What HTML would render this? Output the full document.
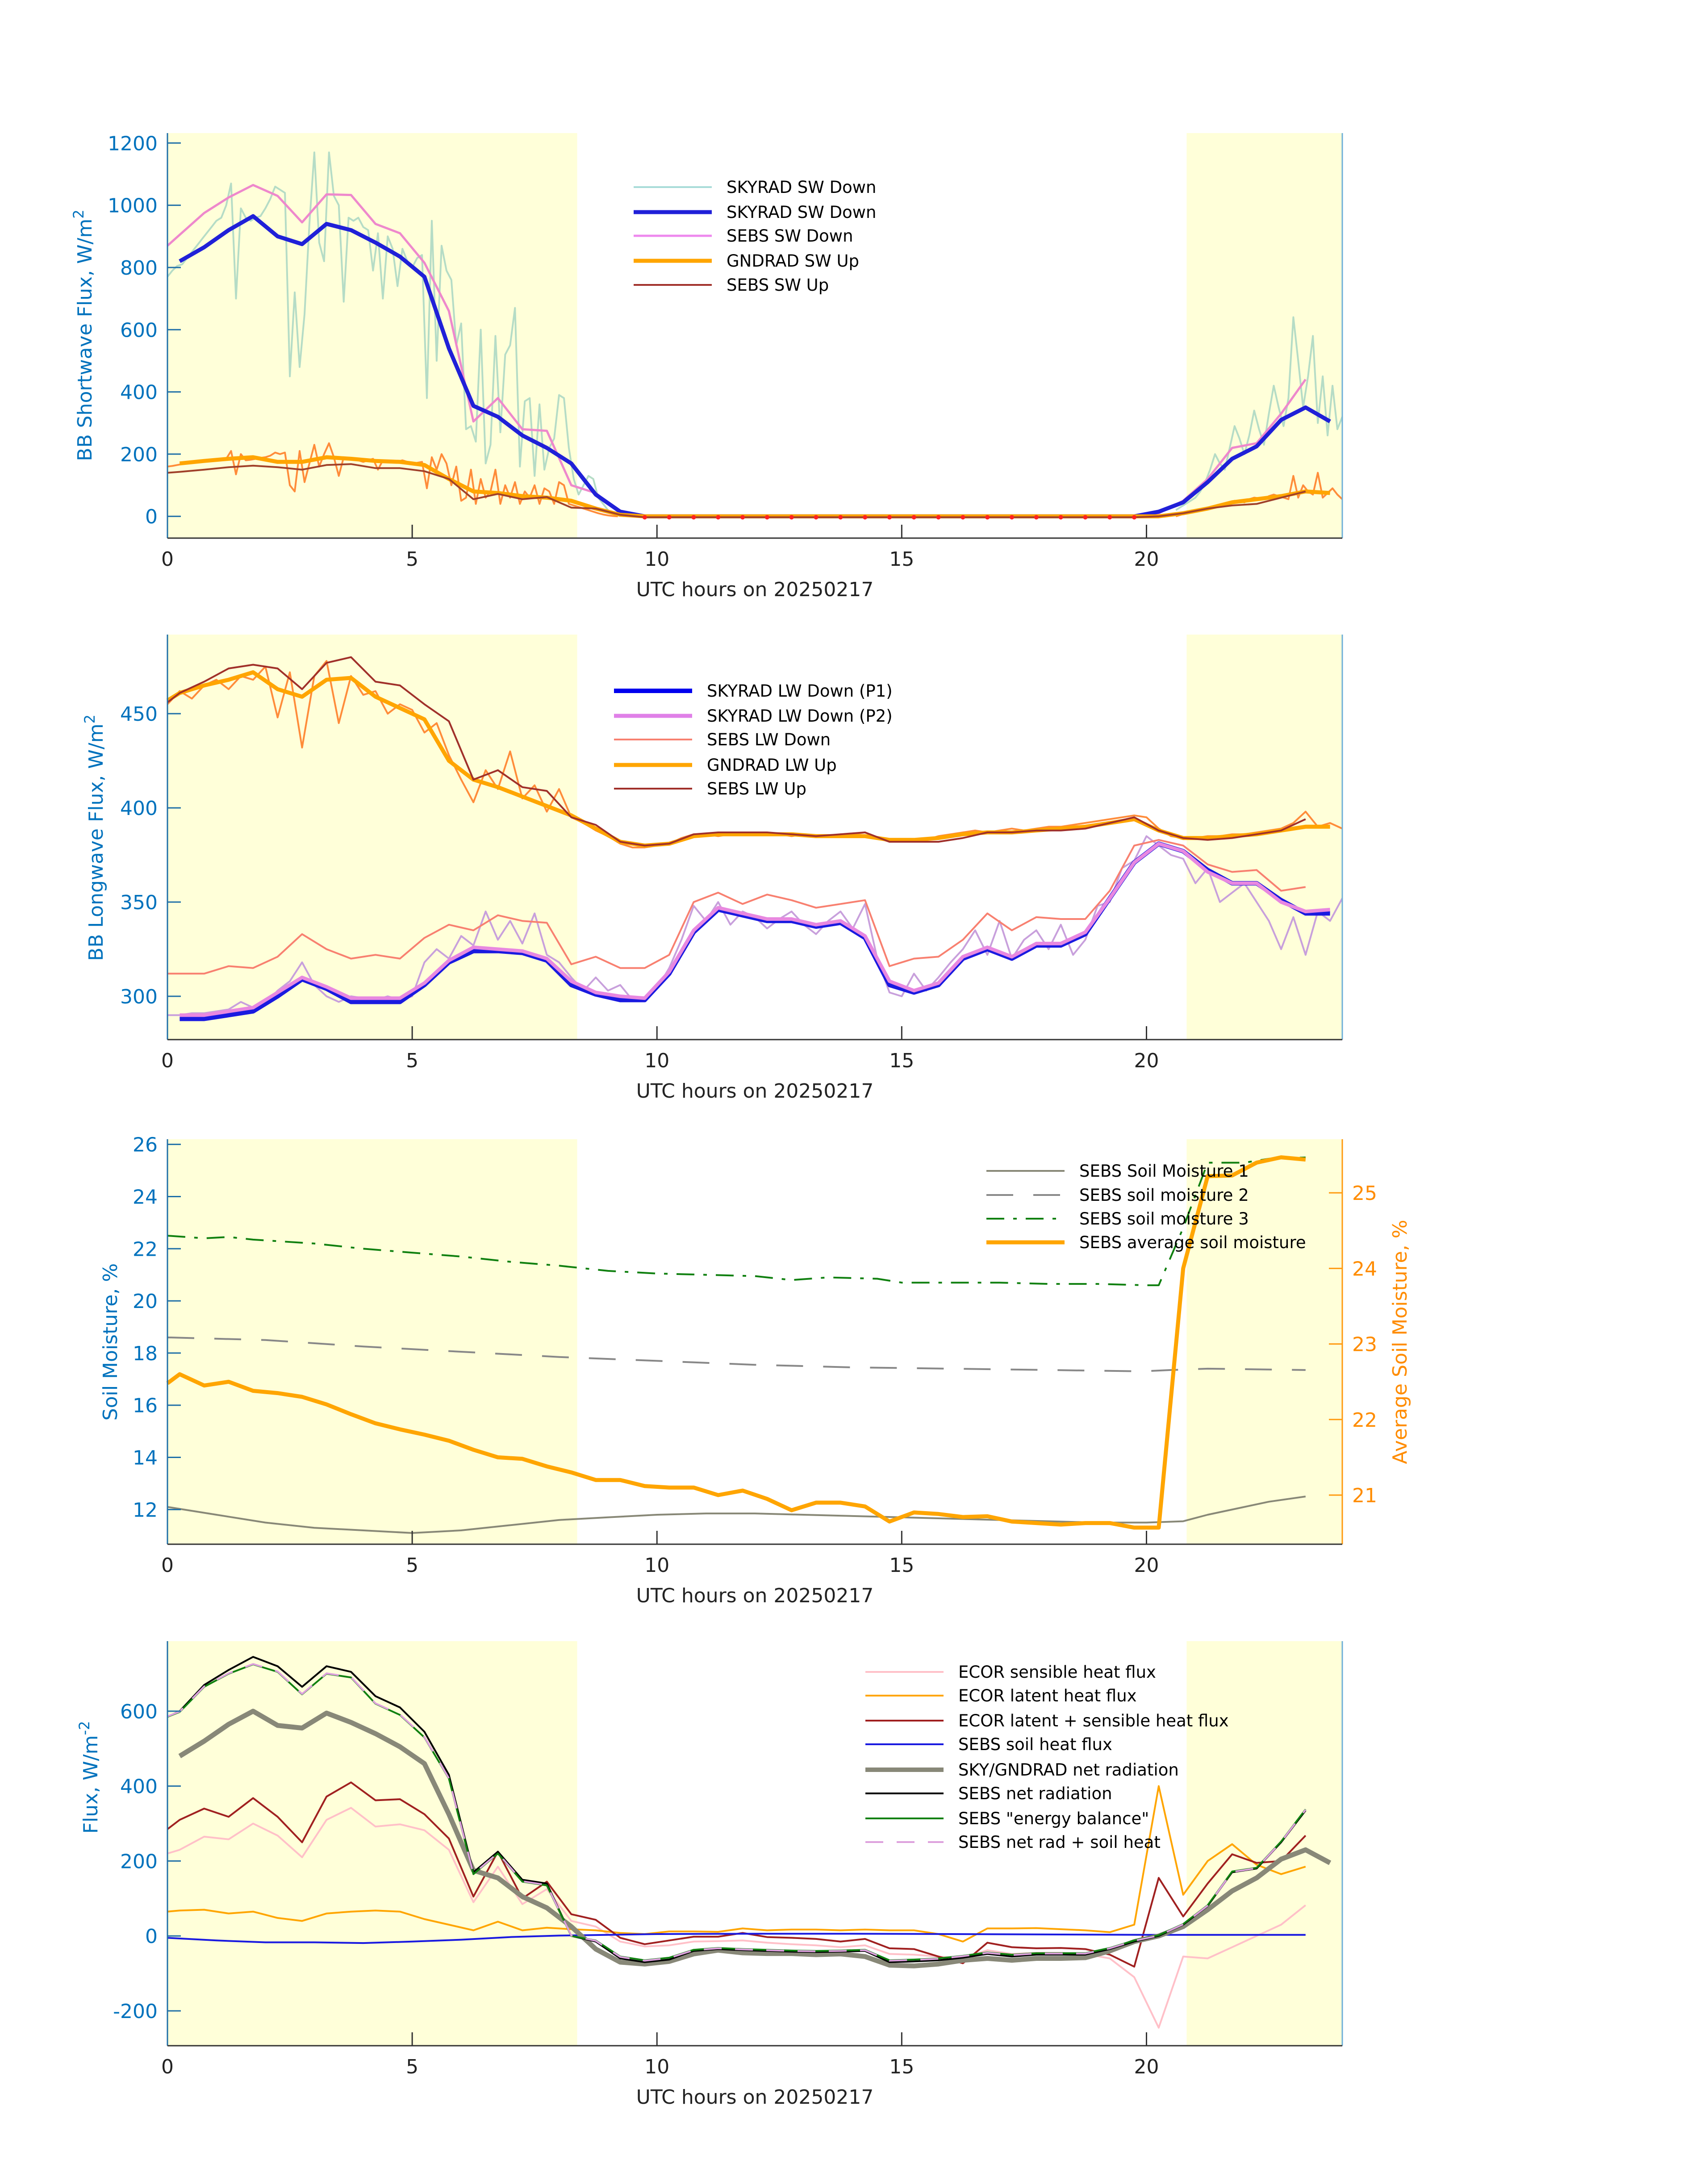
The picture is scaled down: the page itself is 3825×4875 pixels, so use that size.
<!DOCTYPE html>
<html><head><meta charset="utf-8">
<style>
html,body{margin:0;padding:0;background:#fff;}
svg{display:block;font-family:"DejaVu Sans","Liberation Sans",sans-serif;}
</style></head>
<body>
<svg id="fig" xmlns="http://www.w3.org/2000/svg" width="3825" height="4875" viewBox="0 0 3825 4875">
<rect width="3825" height="4875" fill="#fff"/>
<g id="layer"></g>
</svg>
<script>
// ---------- DATA ----------
const H0 = [0,0.25,0.75,1.25,1.75,2.25,2.75,3.25,3.75,4.25,4.75,5.25,5.75,6.25,6.75,7.25,7.75,8.25,8.75,9.25,9.75,10.25,10.75,11.25,11.75,12.25,12.75,13.25,13.75,14.25,14.75,15.25,15.75,16.25,16.75,17.25,17.75,18.25,18.75,19.25,19.75,20.25,20.75,21.25,21.75,22.25,22.75,23.25,23.75];
const xTicks = [0,5,10,15,20];
// Panel 1 shortwave
const swDownSky = [null,820,865,920,965,900,875,940,920,880,835,770,540,355,320,260,220,170,70,15,0,0,0,0,0,0,0,0,0,0,0,0,0,0,0,0,0,0,0,0,0,15,45,110,185,225,310,350,305];
const swDownSebs = [870,905,975,1025,1065,1030,945,1035,1033,940,910,815,660,305,380,280,275,100,75,10,0,0,0,0,0,0,0,0,0,0,0,0,0,0,0,0,0,0,0,0,0,10,50,120,220,235,330,440,null];
const swUpGnd = [null,170,178,185,190,175,175,190,185,178,175,165,120,80,75,65,60,50,25,5,0,0,0,0,0,0,0,0,0,0,0,0,0,0,0,0,0,0,0,0,0,0,10,25,45,55,65,80,75];
const swUpSebs = [140,143,150,158,163,158,150,165,168,155,155,145,120,55,72,55,62,28,25,5,-3,-3,-3,-3,-3,-3,-3,-3,-3,-3,-3,-3,-3,-3,-3,-3,-3,-3,-3,-3,-3,0,10,25,35,40,60,80,null];
const swNoisyAMStart = 0, swNoisyPMStart = 20.6, noisyStep = 0.1;
const swNoisyAM = [770,790,805,810,830,850,870,890,910,930,950,960,1000,1070,700,990,960,950,960,965,990,1020,1060,1050,1040,450,720,480,650,940,1170,880,820,1170,1030,1000,690,960,950,960,930,920,790,910,700,900,860,740,860,820,800,830,840,380,950,500,870,790,760,550,620,280,290,240,600,170,230,580,270,520,550,670,160,370,380,130,360,150,220,250,390,380,220,120,70,100,130,120,60,40,20,8,2];
const swNoisyPM = [20,30,40,50,60,80,110,150,200,170,150,220,290,250,200,260,340,280,230,330,420,350,290,380,640,500,350,450,580,300,450,260,420,280,320];
const swUpNoisyAM = [160,162,165,168,170,172,175,177,180,181,182,184,185,210,135,200,180,182,185,188,190,195,205,200,205,100,80,210,110,170,230,160,200,235,190,130,190,188,185,180,175,180,185,150,180,178,175,176,180,175,170,172,175,90,190,150,200,170,100,160,50,60,150,40,120,60,80,150,40,100,60,110,40,80,60,100,40,90,80,40,110,100,40,35,30,25,20,15,10,6,3,1,0];
const swUpNoisyPM = [0,5,10,12,15,20,25,28,30,35,40,45,50,48,45,55,60,58,55,65,70,65,60,55,130,60,100,80,70,140,60,75,90,70,55];
const swTicks = [0,200,400,600,800,1000,1200];
// Panel 2 longwave
const lwUpGnd = [457,461,465,468,472,463,459,468,469,459,453,447,425,415,411,406,401,396,389,382,380,381,385,386,386,386,386,385,385,385,383,383,384,386,387,387,388,389,390,392,394,388,384,384,385,386,388,390,390];
const lwUpSebs = [456,461,467,474,476,474,463,477,480,467,465,455,446,415,420,411,409,395,391,382,380,381,386,387,387,387,386,385,386,387,382,382,382,384,387,387,388,388,389,392,395,388,384,383,384,386,388,394,null];
const lwDnSebs = [312,312,312,316,315,321,333,325,320,322,320,331,338,335,343,340,339,317,321,315,315,322,350,355,349,354,351,347,349,351,316,320,321,330,344,335,342,341,341,356,380,383,380,370,366,367,356,358,null];
const lwDnP1 = [null,288,288,290,292,300,309,304,297,297,297,306,318,324,324,323,319,306,301,298,298,312,334,346,343,340,340,337,339,331,306,302,306,320,325,320,327,327,333,352,371,381,377,367,360,360,351,344,344];
const lwDnP2 = [null,290,290,292,294,302,310,305,299,299,299,307,319,326,325,324,320,308,302,300,299,313,335,347,344,341,341,338,340,332,308,303,307,321,326,321,328,328,334,352,371,381,377,366,360,360,350,345,346];
const lwNoisyStep = 0.25;
const lwUpNoisy = [455,462,458,465,468,463,470,468,475,448,472,432,470,478,445,470,460,462,450,455,452,440,445,428,415,403,420,410,430,405,412,398,410,395,392,388,385,381,379,379,380,381,384,386,386,385,386,387,386,386,386,385,386,385,385,386,386,387,384,382,382,383,383,385,386,387,388,387,388,389,388,389,390,390,391,392,393,394,395,396,395,389,385,384,384,385,385,386,386,387,388,389,392,398,390,392,389];
const lwDnNoisy = [290,290,291,291,292,293,297,294,296,303,308,318,306,300,297,300,299,298,300,298,300,318,325,320,332,327,345,330,340,328,344,322,318,310,303,310,303,306,298,299,304,315,330,348,340,350,338,345,342,336,341,345,338,333,340,345,336,349,320,302,300,312,303,310,318,325,335,322,340,320,330,335,325,338,322,330,348,350,368,372,385,380,375,373,360,368,350,355,360,350,340,325,342,322,345,340,352];
const lwTicks = [300,350,400,450];
// Panel 3 soil moisture
const sm1H = [0,1,2,3,4,5,6,7,8,9,10,11,12,13,14,15,16,17,18,19,20,20.75,21.25,22,22.5,23.25];
const sm1V = [12.1,11.8,11.5,11.3,11.2,11.1,11.2,11.4,11.6,11.7,11.8,11.85,11.85,11.8,11.75,11.7,11.65,11.6,11.55,11.5,11.5,11.55,11.8,12.1,12.3,12.5];
const sm2H = [0,2,4,6,8,10,12,14,16,18,19.9,20.5,21.25,23.25];
const sm2V = [18.6,18.5,18.25,18.05,17.85,17.7,17.55,17.45,17.4,17.35,17.3,17.35,17.4,17.35];
const sm3H = [0,0.75,1.25,1.75,3,4,5,6,7,8,9,10,11,12,12.75,13.5,14.5,15,16,17,18,19,20,20.25,20.75,21.25,22,22.5,23.25];
const sm3V = [22.5,22.4,22.45,22.35,22.2,22.0,21.85,21.7,21.5,21.35,21.15,21.05,21.0,20.95,20.8,20.9,20.85,20.7,20.7,20.7,20.65,20.65,20.6,20.6,22.8,25.3,25.3,25.45,25.5];
const smAvg = [22.48,22.6,22.45,22.5,22.38,22.35,22.3,22.2,22.07,21.95,21.87,21.8,21.72,21.6,21.5,21.48,21.38,21.3,21.2,21.2,21.12,21.1,21.1,21.0,21.06,20.95,20.8,20.9,20.9,20.85,20.65,20.77,20.75,20.71,20.72,20.65,20.63,20.61,20.63,20.63,20.57,20.57,24.0,25.22,25.23,25.4,25.47,25.44,null];
const smTicks = [12,14,16,18,20,22,24,26];
const smAvgTicks = [21,22,23,24,25];
// Panel 4 energy fluxes
const netSebs = [585,600,670,710,745,720,665,720,705,640,610,545,430,170,225,150,140,0,-15,-60,-70,-63,-40,-35,-38,-40,-42,-43,-42,-40,-70,-68,-65,-58,-48,-55,-50,-50,-50,-35,-15,0,30,80,170,180,250,335,null];
const energyBal = [585,598,665,700,725,705,645,700,690,620,590,530,420,165,220,145,135,0,-12,-55,-65,-58,-37,-32,-35,-37,-39,-40,-39,-37,-65,-63,-60,-53,-44,-50,-46,-46,-46,-32,-12,2,32,82,172,182,252,338,null];
const netPlusSoil = [586,599,666,701,726,706,646,701,691,621,591,531,421,166,221,146,136,1,-13,-56,-66,-59,-38,-33,-36,-38,-40,-41,-40,-38,-66,-64,-61,-54,-45,-51,-47,-47,-47,-33,-13,1,31,81,171,181,251,337,null];
const sensHeat = [220,230,265,258,300,268,210,310,342,292,298,282,230,90,185,85,125,40,25,-15,-28,-25,-15,-14,-12,-18,-22,-25,-30,-25,-48,-50,-55,-60,-38,-48,-45,-45,-48,-60,-110,-245,-55,-60,-30,0,30,82,null];
const latHeat = [65,68,70,60,65,48,40,60,65,68,65,45,30,15,38,15,22,18,15,8,5,12,12,11,20,15,17,17,15,17,15,15,5,-15,20,20,21,18,15,10,30,400,110,200,245,190,165,185,null];
const latSens = [285,310,340,318,368,318,250,372,410,362,365,325,260,105,225,100,145,58,43,-5,-22,-12,-2,-2,8,-3,-5,-8,-15,-8,-33,-35,-55,-73,-18,-30,-33,-32,-35,-50,-82,155,52,140,218,195,200,268,null];
const soilH = [0,1,2,3,4,5,6,7,8,9,10,12,14,16,18,20,23.25];
const soilV = [-5,-12,-17,-17,-19,-15,-10,-3,1,3,5,6,6,5,4,3,3];
const netSkyGnd = [null,480,520,565,600,562,555,595,570,540,505,460,325,175,155,105,75,25,-35,-70,-75,-68,-48,-38,-45,-47,-47,-50,-48,-55,-78,-80,-75,-65,-60,-65,-60,-60,-58,-40,-15,0,25,70,120,155,205,230,195];
const fluxTicks = [-200,0,200,400,600];
const dayShade = [[0,8.37],[20.82,24]];

// ---------- LAYOUT ----------
const NS = 'http://www.w3.org/2000/svg';
const layer = document.getElementById('layer');
const XL = 375, XR = 3006, HMAX = 24;
function X(h){ return XL + h*(XR-XL)/HMAX; }
const P1 = {top:298,bottom:1205,min:-70,max:1232};
const P2 = {top:1421,bottom:2328,min:277,max:492};
const P3 = {top:2551,bottom:3458,min:10.67,max:26.2};
const P3R = {top:2551,bottom:3458,min:20.35,max:25.71};
const P4 = {top:3675,bottom:4581,min:-293,max:787};
function Yf(p){ return v => p.bottom - (v-p.min)/(p.max-p.min)*(p.bottom-p.top); }

function mk(tag, attrs, parent){
  const e = document.createElementNS(NS, tag);
  for (const k in attrs) e.setAttribute(k, attrs[k]);
  (parent||layer).appendChild(e);
  return e;
}
function pathFrom(hours, vals, Y){
  let d = '', pen = false;
  for (let i=0;i<vals.length;i++){
    if (vals[i]===null || vals[i]===undefined){ pen=false; continue; }
    d += (pen?'L':'M') + X(hours[i]).toFixed(1) + ',' + Y(vals[i]).toFixed(1);
    pen = true;
  }
  return d;
}
function line(name, hours, vals, p, color, w, dash){
  const e = mk('path', {d: pathFrom(hours, vals, Yf(p)), fill:'none', stroke:color, 'stroke-width':w, 'stroke-linejoin':'round'});
  if (dash) e.setAttribute('stroke-dasharray', dash);
  
  
  return e;
}
function stepHours(start, step, n){ const a=[]; for(let i=0;i<n;i++) a.push(start+i*step); return a; }

function panelFrame(p, name){
  for (const s of dayShade){
    const r = mk('rect', {x:X(s[0]), y:p.top, width:X(s[1])-X(s[0]), height:p.bottom-p.top, fill:'#ffffd9'});
    
    
  }
}
function panelAxes(p, name, ticks, rightColor){
  const Y = Yf(p);
  const ax = mk('g', {});
  
  
  mk('line', {x1:XL, y1:p.top, x2:XL, y2:p.bottom, stroke:'#1f6fa8', 'stroke-width':3}, ax);
  mk('line', {x1:XR, y1:p.top, x2:XR, y2:p.bottom, stroke:rightColor||'#6fb0d8', 'stroke-width':3}, ax);
  mk('line', {x1:XL, y1:p.bottom, x2:XR, y2:p.bottom, stroke:'#333', 'stroke-width':3}, ax);
  for (const t of ticks){
    mk('line', {x1:XL, y1:Y(t), x2:XL+30, y2:Y(t), stroke:'#1f6fa8', 'stroke-width':3}, ax);
    const tx = mk('text', {x:XL-22, y:Y(t)+16, 'text-anchor':'end', 'font-size':44, fill:'#0072bd'}, ax);
    tx.textContent = t;
    
    
  }
  for (const t of xTicks){
    if (t>0) mk('line', {x1:X(t), y1:p.bottom, x2:X(t), y2:p.bottom-30, stroke:'#333', 'stroke-width':3}, ax);
    const tx = mk('text', {x:X(t), y:p.bottom+62, 'text-anchor':'middle', 'font-size':44, fill:'#222'}, ax);
    tx.textContent = t;
    
    
  }
  const xl = mk('text', {x:(XL+XR)/2, y:p.bottom+130, 'text-anchor':'middle', 'font-size':44, fill:'#222'}, ax);
  xl.textContent = 'UTC hours on 20250217';
  
  
}
function legend(name, x0, rows){
  const g = mk('g', {});
  
  
  for (const r of rows){
    const l = mk('line', {x1:x0, y1:r.y, x2:x0+175, y2:r.y, stroke:r.c, 'stroke-width':r.w}, g);
    if (r.dash) l.setAttribute('stroke-dasharray', r.dash);
    
    
    const t = mk('text', {x:x0+208, y:r.y+13, 'font-size':37, fill:'#000'}, g);
    t.textContent = r.t;
    
    
  }
}
function ylabel(name, x, y, text, sup, color){
  const t = mk('text', {x:x, y:y, transform:`rotate(-90 ${x} ${y})`, 'text-anchor':'middle', 'font-size':44, fill:color});
  t.textContent = text;
  if (sup){
    const s = mk('tspan', {dy:-18, 'font-size':32}, t);
    s.textContent = sup;
  }
  
  
}

// ---------- PANEL 1 ----------
panelFrame(P1, 'shortwave');
line('skyrad-sw-down-1min-am', stepHours(swNoisyAMStart, noisyStep, swNoisyAM.length), swNoisyAM, P1, '#b5dcc6', 4);
line('skyrad-sw-down-1min-pm', stepHours(swNoisyPMStart, noisyStep, swNoisyPM.length), swNoisyPM, P1, '#b5dcc6', 4);
line('gndrad-sw-up-1min-am', stepHours(swNoisyAMStart, noisyStep, swUpNoisyAM.length), swUpNoisyAM, P1, '#ff8c3a', 4);
line('gndrad-sw-up-1min-pm', stepHours(swNoisyPMStart, noisyStep, swUpNoisyPM.length), swUpNoisyPM, P1, '#ff8c3a', 4);
line('sebs-sw-down-line', H0, swDownSebs, P1, '#ee88cc', 5);
line('skyrad-sw-down-line', H0, swDownSky, P1, '#2020d8', 9);
line('gndrad-sw-up-line', H0, swUpGnd, P1, '#ffa500', 9);
line('sebs-sw-up-line', H0, swUpSebs, P1, '#a0402a', 4);
{
  const Y = Yf(P1);
  for (let i=0;i<H0.length;i++){
    if (swUpSebs[i]!==null && swUpSebs[i]<0){
      const c = mk('circle', {cx:X(H0[i]), cy:Y(swUpSebs[i]), r:5, fill:'#ff2020'});
      
      
    }
  }
}
panelAxes(P1, 'shortwave', swTicks);
ylabel('shortwave-y-axis-title', 205, 751, 'BB Shortwave Flux, W/m', '2', '#0072bd');
legend('shortwave-legend', 1419, [
  {y:419, c:'#a8dcd8', w:4, t:'SKYRAD SW Down'},
  {y:475, c:'#2020d8', w:9, t:'SKYRAD SW Down'},
  {y:528, c:'#ee88ee', w:5, t:'SEBS SW Down'},
  {y:584, c:'#ffa500', w:9, t:'GNDRAD SW Up'},
  {y:638, c:'#a0302a', w:4, t:'SEBS SW Up'}
]);

// ---------- PANEL 2 ----------
panelFrame(P2, 'longwave');
line('gndrad-lw-up-1min', stepHours(0, lwNoisyStep, lwUpNoisy.length), lwUpNoisy, P2, '#ff8c3a', 4);
line('skyrad-lw-down-1min', stepHours(0, lwNoisyStep, lwDnNoisy.length), lwDnNoisy, P2, '#c8a0dc', 4);
line('sebs-lw-down-line', H0, lwDnSebs, P2, '#f88070', 4);
line('skyrad-lw-down-p1-line', H0, lwDnP1, P2, '#1a1ae0', 10);
line('skyrad-lw-down-p2-line', H0, lwDnP2, P2, '#e888e0', 8);
line('gndrad-lw-up-line', H0, lwUpGnd, P2, '#ffa500', 9);
line('sebs-lw-up-line', H0, lwUpSebs, P2, '#a0302a', 4);
panelAxes(P2, 'longwave', lwTicks);
ylabel('longwave-y-axis-title', 230, 1876, 'BB Longwave Flux, W/m', '2', '#0072bd');
legend('longwave-legend', 1375, [
  {y:1547, c:'#0000ee', w:10, t:'SKYRAD LW Down (P1)'},
  {y:1603, c:'#e080e8', w:9, t:'SKYRAD LW Down (P2)'},
  {y:1656, c:'#f88070', w:4, t:'SEBS LW Down'},
  {y:1713, c:'#ffa500', w:9, t:'GNDRAD LW Up'},
  {y:1766, c:'#a0302a', w:4, t:'SEBS LW Up'}
]);

// ---------- PANEL 3 ----------
panelFrame(P3, 'soil-moisture');
line('sebs-soil-moisture-1-line', sm1H, sm1V, P3, '#888877', 4);
line('sebs-soil-moisture-2-line', sm2H, sm2V, P3, '#888888', 4, '60,45');
line('sebs-soil-moisture-3-line', sm3H, sm3V, P3, '#108010', 4, '40,20,8,20');
line('sebs-average-soil-moisture-line', H0, smAvg, P3R, '#ffa500', 9);
panelAxes(P3, 'soil-moisture', smTicks, '#ff9a10');
{
  const Y = Yf(P3R);
  const g = mk('g', {});
  
  
  for (const t of smAvgTicks){
    mk('line', {x1:XR-30, y1:Y(t), x2:XR, y2:Y(t), stroke:'#ff9a10', 'stroke-width':3}, g);
    const tx = mk('text', {x:XR+22, y:Y(t)+16, 'font-size':44, fill:'#ff8c00'}, g);
    tx.textContent = t;
    
    
  }
}
ylabel('soil-moisture-y-axis-title', 262, 3005, 'Soil Moisture, %', null, '#0072bd');
ylabel('average-soil-moisture-y-axis-title', 3150, 3005, 'Average Soil Moisture, %', null, '#ff8c00');
legend('soil-moisture-legend', 2209, [
  {y:2622, c:'#888877', w:4, t:'SEBS Soil Moisture 1'},
  {y:2676, c:'#888888', w:4, t:'SEBS soil moisture 2', dash:'60,45'},
  {y:2729, c:'#108010', w:4, t:'SEBS soil moisture 3', dash:'40,20,8,20'},
  {y:2782, c:'#ffa500', w:9, t:'SEBS average soil moisture'}
]);

// ---------- PANEL 4 ----------
panelFrame(P4, 'energy-flux');
line('ecor-sensible-heat-flux-line', H0, sensHeat, P4, '#ffc0c8', 4);
line('ecor-latent-heat-flux-line', H0, latHeat, P4, '#ffa500', 4);
line('ecor-latent-plus-sensible-line', H0, latSens, P4, '#a02020', 4);
line('sebs-soil-heat-flux-line', soilH, soilV, P4, '#1a1ae0', 4);
line('sky-gndrad-net-radiation-line', H0, netSkyGnd, P4, '#888878', 11);
line('sebs-net-radiation-line', H0, netSebs, P4, '#000', 4);
line('sebs-energy-balance-line', H0, energyBal, P4, '#108010', 4);
line('sebs-net-rad-plus-soil-heat-line', H0, netPlusSoil, P4, '#dda0dd', 4, '40,30');
panelAxes(P4, 'energy-flux', fluxTicks);
ylabel('energy-flux-y-axis-title', 218, 3980, 'Flux, W/m', '-2', '#0072bd');
legend('energy-flux-legend', 1938, [
  {y:3744, c:'#ffc0c8', w:4, t:'ECOR sensible heat flux'},
  {y:3797, c:'#ffa500', w:4, t:'ECOR latent heat flux'},
  {y:3853, c:'#a02020', w:4, t:'ECOR latent + sensible heat flux'},
  {y:3906, c:'#1a1ae0', w:4, t:'SEBS soil heat flux'},
  {y:3963, c:'#888878', w:10, t:'SKY/GNDRAD net radiation'},
  {y:4016, c:'#000', w:4, t:'SEBS net radiation'},
  {y:4072, c:'#108010', w:4, t:'SEBS "energy balance"'},
  {y:4125, c:'#dda0dd', w:4, t:'SEBS net rad + soil heat', dash:'40,30'}
]);
</script>
</body></html>
